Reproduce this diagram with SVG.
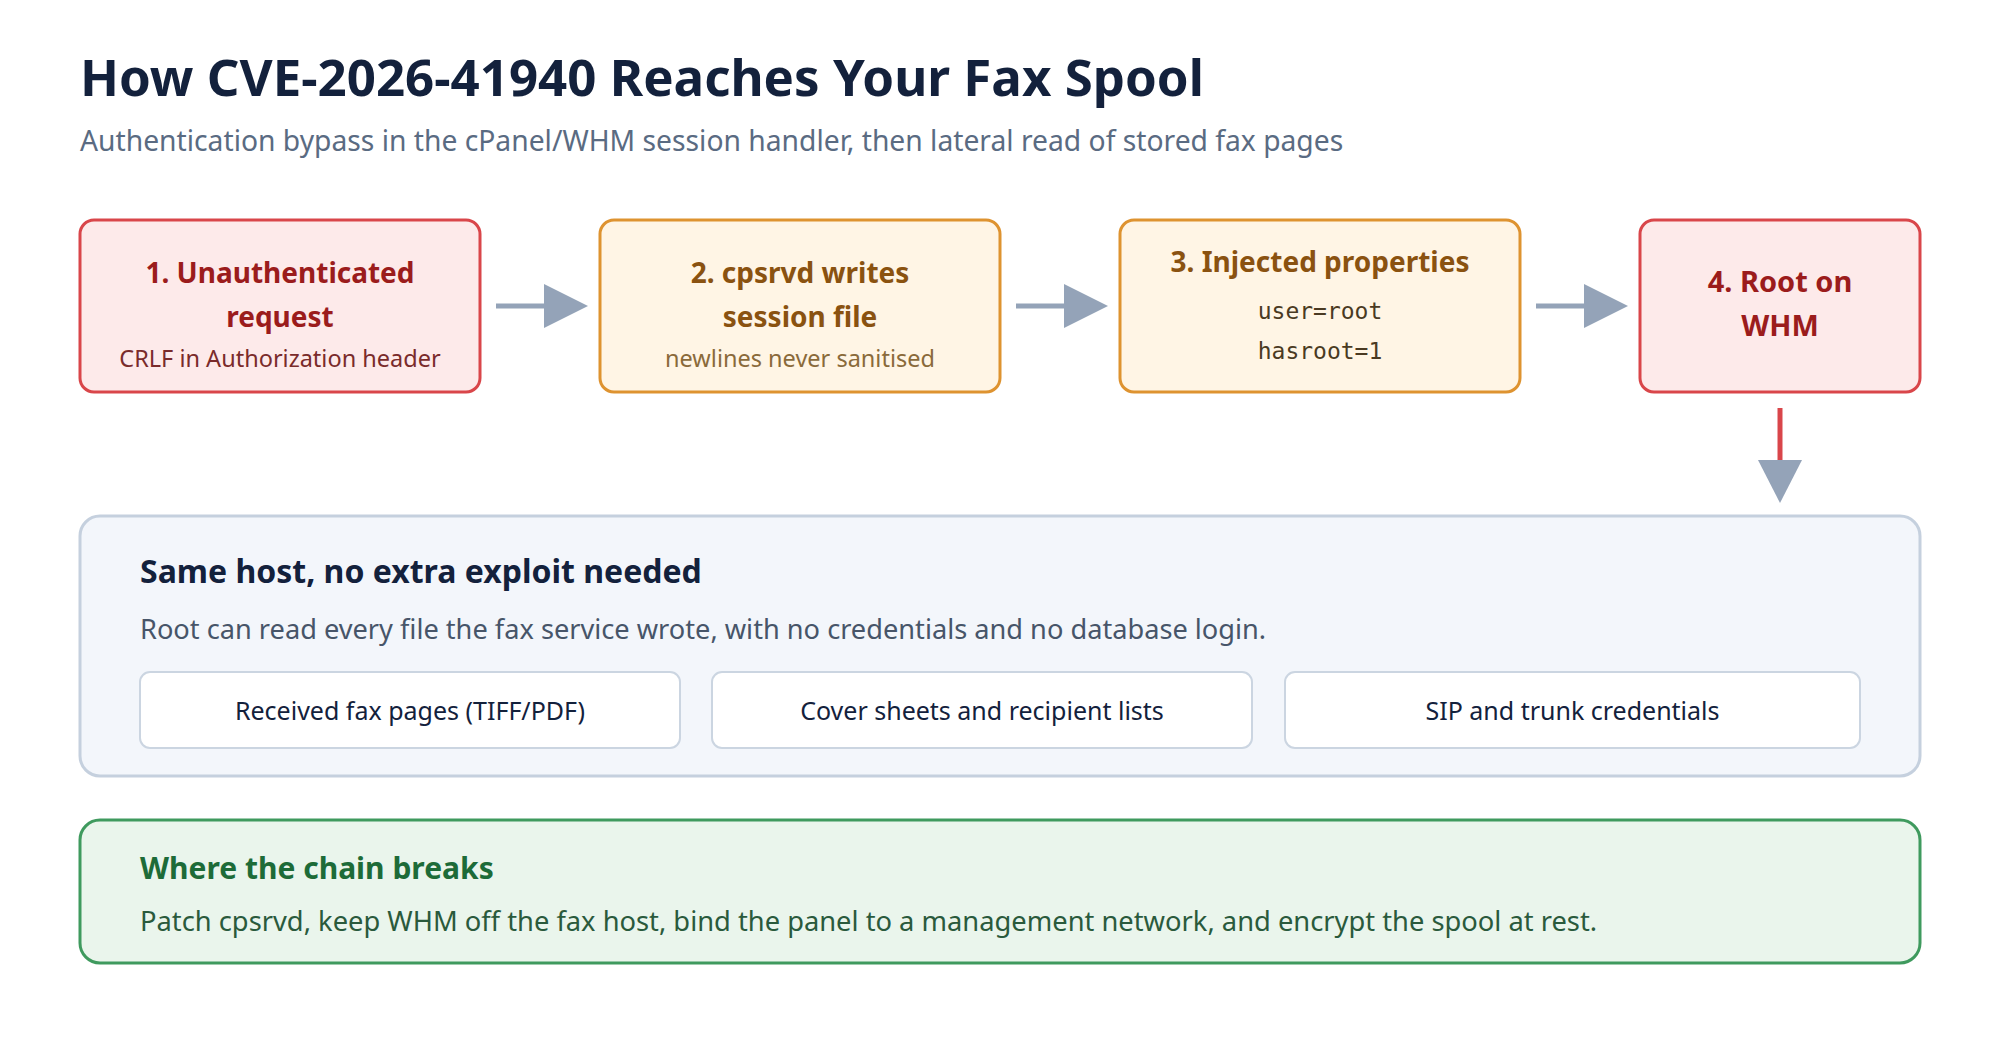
<svg xmlns="http://www.w3.org/2000/svg" width="2000" height="1040" viewBox="0 0 2000 1040">
<defs>
<style>
text{font-family:"Noto Sans","Open Sans","DejaVu Sans",sans-serif}
.h1{font-size:51px;font-weight:700;fill:#13213c}
.sub{font-size:28.25px;fill:#5a6b82}
.red rect{fill:#fdeaea;stroke:#d9464a;stroke-width:3}
.amb rect{fill:#fff5e5;stroke:#de9330;stroke-width:3}
.bt{font-size:28px;font-weight:700;text-anchor:middle}
.red .bt{fill:#9b1c1c}
.amb .bt{fill:#8a5210}
.bs{font-size:23.5px;text-anchor:middle}
.red .bs{fill:#7a2b2b}
.amb .bs{fill:#8a6a3a}
.mono{font-family:"DejaVu Sans Mono","Liberation Mono",monospace;font-size:23px;fill:#4a3a22;text-anchor:middle}
.conn line{stroke:#94a3b8;stroke-width:5}
.conn polygon{fill:#94a3b8}
.pt{font-size:32px;font-weight:700;fill:#13213c}
.pd{font-size:27.2px;fill:#475569}
.chip rect{fill:#ffffff;stroke:#cbd5e1;stroke-width:2}
.chip text{font-size:25px;fill:#13213c;text-anchor:middle}
</style>
</defs>
<rect width="2000" height="1040" fill="#ffffff"/>
<text class="h1" x="80" y="96">How CVE-2026-41940 Reaches Your Fax Spool</text>
<text class="sub" x="80" y="151">Authentication bypass in the cPanel/WHM session handler, then lateral read of stored fax pages</text>

<g id="step1" class="red">
<rect x="80" y="220" width="400" height="172" rx="14"/>
<text class="bt" x="280" y="283">1. Unauthenticated</text>
<text class="bt" x="280" y="327">request</text>
<text class="bs" x="280" y="367">CRLF in Authorization header</text>
</g>
<g id="step2" class="amb">
<rect x="600" y="220" width="400" height="172" rx="14"/>
<text class="bt" x="800" y="283">2. cpsrvd writes</text>
<text class="bt" x="800" y="327">session file</text>
<text class="bs" x="800" y="367">newlines never sanitised</text>
</g>
<g id="step3" class="amb">
<rect x="1120" y="220" width="400" height="172" rx="14"/>
<text class="bt" x="1320" y="272">3. Injected properties</text>
<text class="mono" x="1320" y="319">user=root</text>
<text class="mono" x="1320" y="359">hasroot=1</text>
</g>
<g id="step4" class="red">
<rect x="1640" y="220" width="280" height="172" rx="14"/>
<text class="bt" x="1780" y="292" style="font-size:29px">4. Root on</text>
<text class="bt" x="1780" y="336" style="font-size:29px">WHM</text>
</g>

<g id="connectors" class="conn">
<line x1="496" y1="306" x2="546" y2="306"/>
<polygon points="544,284 588,306 544,328"/>
<line x1="1016" y1="306" x2="1066" y2="306"/>
<polygon points="1064,284 1108,306 1064,328"/>
<line x1="1536" y1="306" x2="1586" y2="306"/>
<polygon points="1584,284 1628,306 1584,328"/>
<line x1="1780" y1="408" x2="1780" y2="462" style="stroke:#d9464a"/>
<polygon points="1758,460 1802,460 1780,503"/>
</g>

<g id="impact">
<rect x="80" y="516" width="1840" height="260" rx="20" fill="#f3f6fb" stroke="#c5d0de" stroke-width="3"/>
<text class="pt" x="140" y="583">Same host, no extra exploit needed</text>
<text class="pd" x="140" y="639">Root can read every file the fax service wrote, with no credentials and no database login.</text>
</g>
<g id="item1" class="chip">
<rect x="140" y="672" width="540" height="76" rx="10"/>
<text x="410" y="720">Received fax pages (TIFF/PDF)</text>
</g>
<g id="item2" class="chip">
<rect x="712" y="672" width="540" height="76" rx="10"/>
<text x="982" y="720">Cover sheets and recipient lists</text>
</g>
<g id="item3" class="chip">
<rect x="1285" y="672" width="575" height="76" rx="10"/>
<text x="1572.5" y="720">SIP and trunk credentials</text>
</g>

<g id="mitigation">
<rect x="80" y="820" width="1840" height="143" rx="20" fill="#eaf5ec" stroke="#3f9a5e" stroke-width="3"/>
<text x="140" y="879" style="font-size:30px;font-weight:700;fill:#1d6b38">Where the chain breaks</text>
<text x="140" y="931" style="font-size:27.3px;fill:#2a5a3c">Patch cpsrvd, keep WHM off the fax host, bind the panel to a management network, and encrypt the spool at rest.</text>
</g>
</svg>
